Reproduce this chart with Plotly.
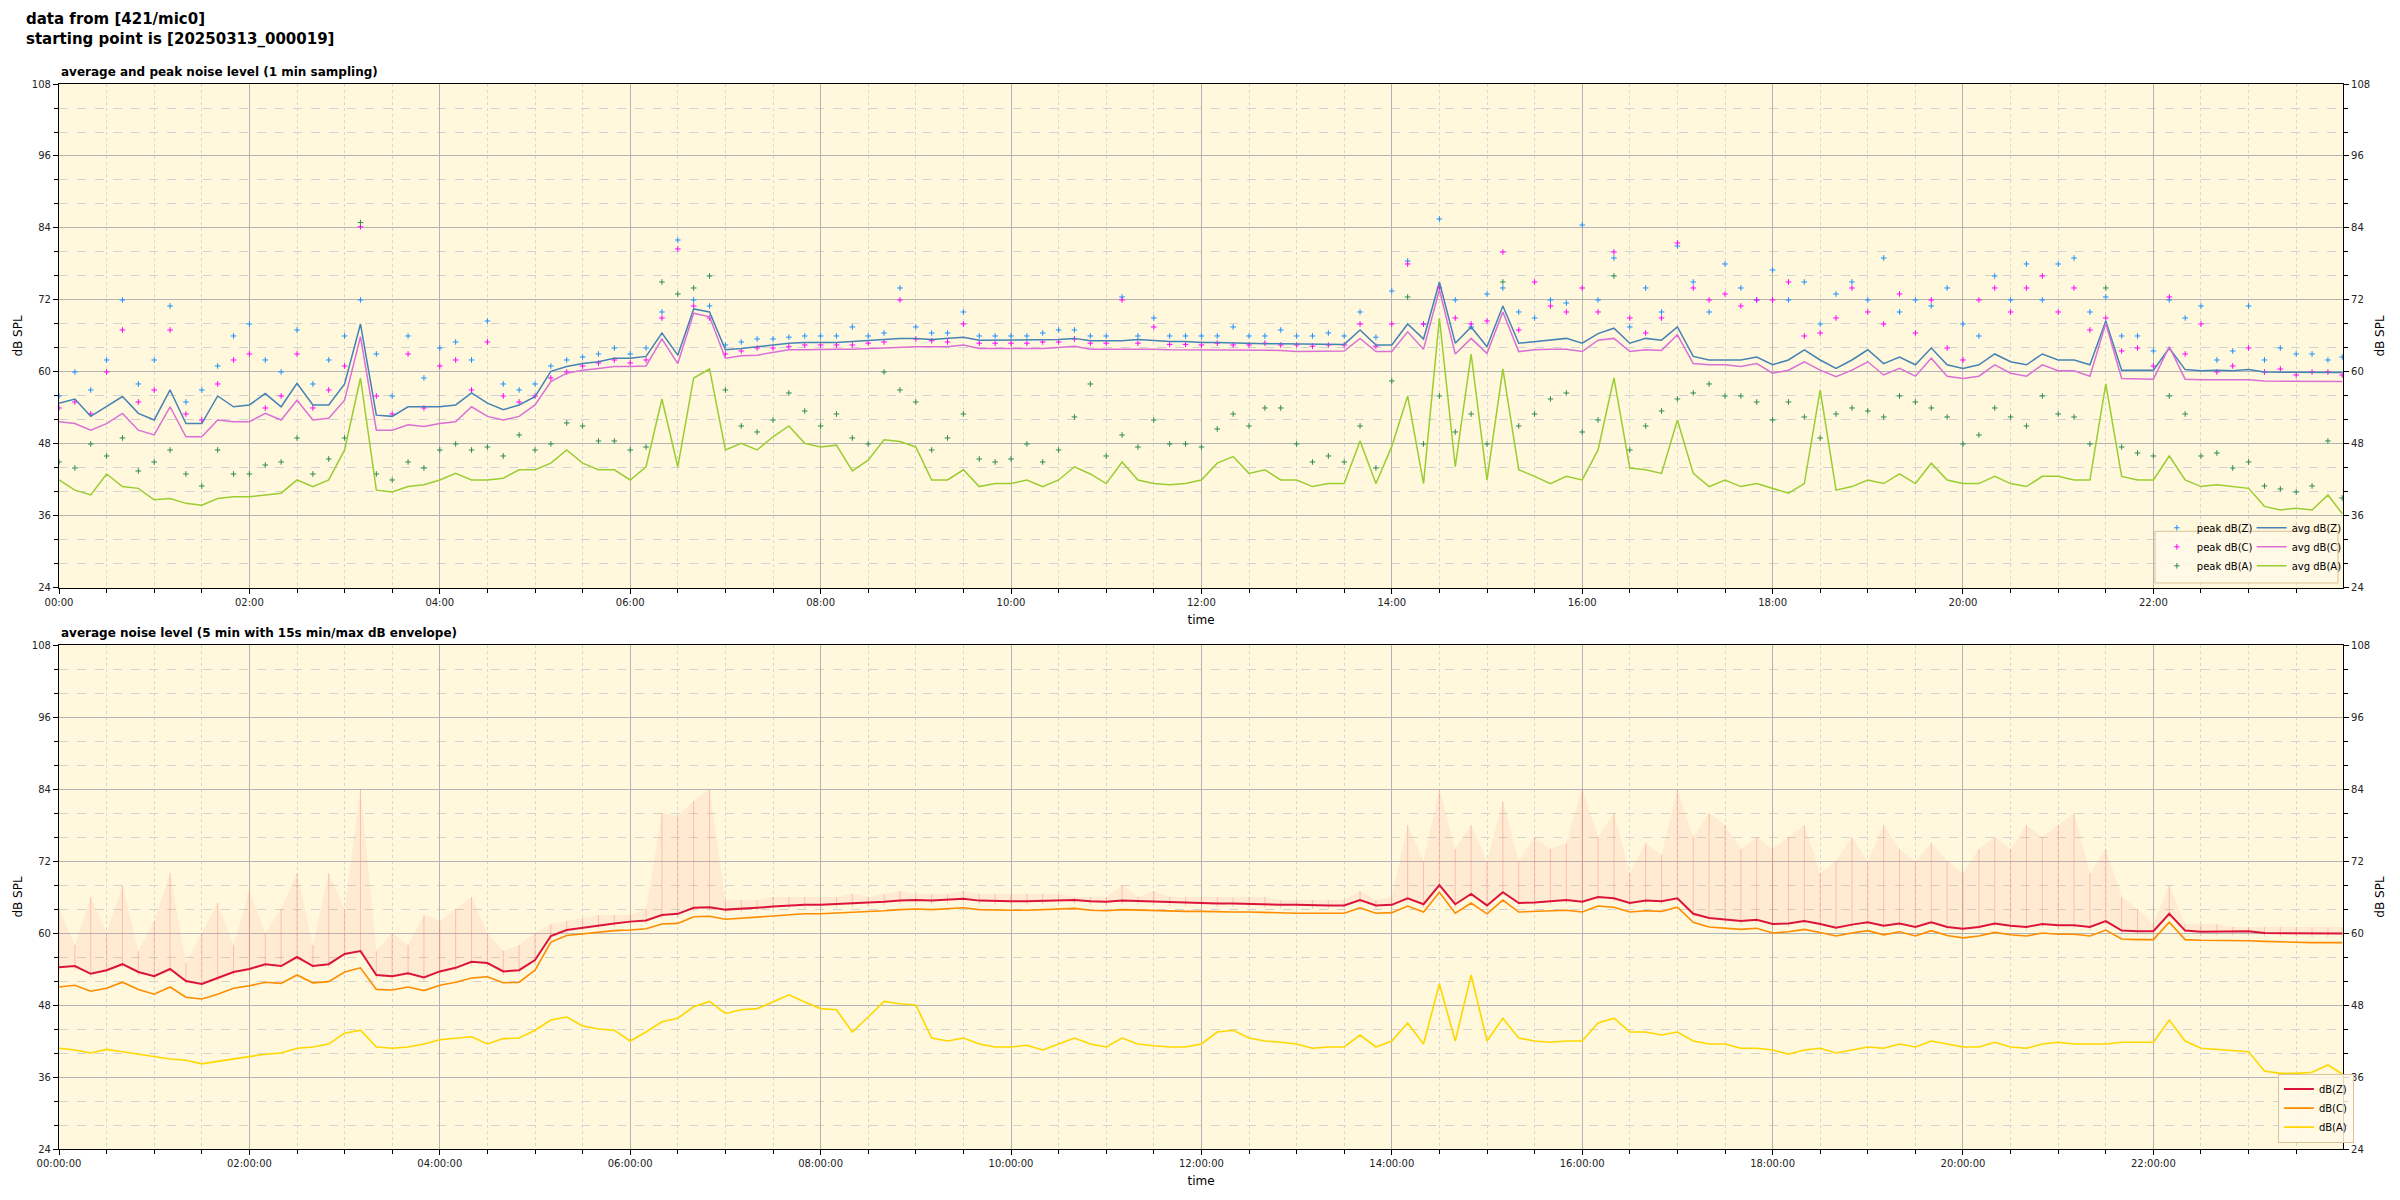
"""Daily noise level chart for one microphone (1 min peaks/averages and 5 min envelope)."""

import datetime as dt

import plotly.graph_objects as go

T0 = dt.datetime(2025, 3, 13, 0, 0, 0)

# samples every 10 minutes, the last one at 23:59
minutes = list(range(0, 1440, 10)) + [1439]
times = [T0 + dt.timedelta(minutes=m) for m in minutes]

y_ticks = [24, 36, 48, 60, 72, 84, 96, 108]

# ---- top panel: 1 min sampling ----
avg_z = [
    54.8, 55.5, 52.6, 54.2, 55.9, 53.1,
    52.0, 57.0, 51.4, 51.4, 56.0, 54.2,
    54.5, 56.4, 54.2, 58.1, 54.5, 54.5,
    58.0, 68.0, 52.8, 52.6, 54.2, 54.2,
    54.2, 54.5, 56.5, 54.8, 53.7, 54.5,
    55.9, 60.1, 60.9, 61.4, 61.7, 62.3,
    62.3, 62.6, 66.5, 62.8, 70.5, 70.0,
    63.7, 63.9, 64.2, 64.5, 64.8, 64.9,
    64.9, 64.9, 65.1, 65.2, 65.4, 65.6,
    65.6, 65.4, 65.6, 65.8, 65.3, 65.3,
    65.3, 65.3, 65.4, 65.4, 65.6, 65.2,
    65.2, 65.2, 65.4, 65.2, 65.1, 65.1,
    64.9, 64.9, 64.8, 64.8, 64.7, 64.7,
    64.7, 64.6, 64.6, 64.6, 67.0, 64.5,
    64.5, 68.0, 65.5, 75.0, 64.8, 67.5,
    64.2, 71.0, 64.8, 65.1, 65.3, 65.6,
    64.8, 66.4, 67.3, 64.8, 65.6, 65.3,
    67.5, 62.6, 62.0, 62.0, 62.0, 62.5,
    61.2, 62.0, 63.7, 62.0, 60.6, 62.0,
    63.7, 61.4, 62.5, 61.2, 64.0, 61.2,
    60.6, 61.2, 63.0, 61.7, 61.2, 63.0,
    62.0, 62.0, 61.2, 68.5, 60.3, 60.3,
    60.3, 64.0, 60.4, 60.2, 60.3, 60.2,
    60.4, 60.0, 60.0, 59.9, 59.9, 59.9,
    59.9,
]
avg_c = [
    51.7, 51.4, 50.3, 51.4, 53.1, 50.3,
    49.5, 54.2, 49.2, 49.2, 52.0, 51.7,
    51.7, 53.1, 52.0, 55.3, 52.0, 52.3,
    55.3, 65.9, 50.3, 50.3, 51.2, 50.9,
    51.4, 51.7, 54.2, 52.6, 52.0, 52.6,
    54.5, 58.4, 59.8, 60.3, 60.6, 60.9,
    60.9, 61.0, 65.5, 61.4, 69.8, 69.2,
    62.3, 62.7, 62.8, 63.2, 63.7, 63.7,
    63.8, 63.8, 63.8, 63.9, 64.1, 64.2,
    64.2, 64.2, 64.2, 64.5, 63.9, 63.9,
    63.9, 63.9, 63.9, 64.1, 64.3, 63.8,
    63.8, 63.8, 63.9, 63.8, 63.7, 63.7,
    63.7, 63.7, 63.7, 63.7, 63.6, 63.6,
    63.4, 63.4, 63.4, 63.5, 65.6, 63.4,
    63.4, 66.7, 63.8, 73.7, 63.0, 65.6,
    63.1, 70.0, 63.4, 63.7, 63.8, 63.8,
    63.4, 65.3, 65.6, 63.4, 63.7, 63.6,
    66.2, 61.4, 61.2, 61.2, 60.9, 61.4,
    59.8, 60.3, 61.7, 60.3, 59.2, 60.3,
    61.7, 59.5, 60.6, 59.3, 62.3, 59.3,
    58.9, 59.3, 61.2, 59.8, 59.3, 61.2,
    60.2, 60.2, 59.3, 68.1, 58.9, 58.9,
    58.8, 64.2, 58.8, 58.7, 58.7, 58.6,
    58.7, 58.5, 58.5, 58.4, 58.4, 58.4,
    58.4,
]
avg_a = [
    42.0, 40.3, 39.5, 43.0, 40.9, 40.6,
    38.7, 38.9, 38.1, 37.8, 38.9, 39.2,
    39.2, 39.5, 39.8, 42.0, 40.9, 42.0,
    47.0, 59.0, 40.3, 40.0, 40.9, 41.2,
    42.0, 43.1, 42.0, 42.0, 42.3, 43.7,
    43.7, 44.8, 47.0, 44.8, 43.7, 43.7,
    42.0, 44.2, 55.5, 44.2, 59.0, 60.5,
    47.0, 48.1, 47.0, 49.2, 51.0, 48.1,
    47.5, 47.8, 43.5, 45.3, 48.7, 48.4,
    47.5, 42.0, 42.0, 43.7, 40.9, 41.4,
    41.4, 42.0, 40.9, 42.0, 44.2, 43.0,
    41.4, 45.0, 42.0, 41.4, 41.2, 41.4,
    42.0, 44.8, 45.9, 43.1, 43.7, 42.0,
    42.0, 40.9, 41.4, 41.4, 48.5, 41.4,
    47.6, 56.0, 41.4, 69.0, 44.2, 63.0,
    42.0, 60.5, 43.7, 42.6, 41.4, 42.6,
    42.0, 47.0, 59.0, 44.0, 43.7, 43.1,
    52.0, 43.1, 40.9, 42.0, 40.9, 41.4,
    40.6, 39.8, 41.4, 57.0, 40.3, 40.9,
    42.0, 41.4, 43.0, 41.4, 44.8, 42.0,
    41.4, 41.4, 42.6, 41.4, 40.9, 42.6,
    42.6, 42.0, 42.0, 58.0, 42.6, 42.0,
    42.0, 46.0, 42.0, 40.9, 41.2, 40.9,
    40.6, 37.6, 37.0, 37.3, 37.0, 39.5,
    36.4,
]
peak_z = [
    56, 60, 57, 62, 72, 58,
    62, 71, 55, 57, 61, 66,
    68, 62, 60, 67, 58, 62,
    66, 72, 63, 56, 66, 59,
    64, 65, 62, 68.5, 58, 57,
    58, 61, 62, 62.5, 63, 64,
    63, 64, 70, 82, 72, 71,
    64.5, 65, 65.5, 65.5, 65.8, 66,
    66, 66, 67.5, 66, 66.5, 74,
    67.5, 66.5, 66.5, 70, 66, 66,
    66, 66, 66.5, 67, 67, 66,
    66, 72.5, 66, 69, 66, 66,
    66, 66, 67.5, 66, 66, 67,
    66, 66, 66.5, 66, 70, 65.8,
    73.5, 78.5, 68, 85.5, 72, 67.5,
    73, 74, 70, 69, 72, 71.5,
    84.5, 72, 79, 67.5, 74, 70,
    81, 75, 70, 78, 74, 72,
    77, 72, 75, 68, 73, 75,
    72, 79, 70, 72, 71, 74,
    68, 66, 76, 72, 78, 72,
    78, 79, 70, 72.5, 66, 66,
    63.5, 72, 69, 71, 62, 63.5,
    71, 62, 64, 63, 63, 62,
    62.5,
]
peak_c = [
    54, 55, 53, 60, 67, 55,
    57, 67, 53, 52, 58, 62,
    63, 54, 56, 63, 54, 57,
    61, 84.2, 56, 53, 63, 54,
    61, 62, 57, 65, 56, 55,
    56, 59, 60, 61, 61.5, 62,
    61.5, 62, 69, 80.5, 71, 69,
    63, 63.5, 64, 64, 64.2, 64.5,
    64.5, 64.5, 64.5, 64.8, 65, 72,
    65.5, 65.2, 65, 68, 64.8, 64.8,
    64.8, 64.8, 65, 65, 65.5, 64.8,
    64.8, 72, 64.8, 67.5, 64.6, 64.6,
    64.5, 64.8, 64.5, 64.5, 64.8, 64.5,
    64.5, 64.3, 64.5, 64.5, 68, 64.3,
    68, 78, 68, 74, 69, 68,
    68.5, 80, 67, 75, 71, 70,
    74, 70, 80, 69, 66.5, 69,
    81.5, 74, 72, 73, 71, 72,
    72, 75, 66, 66.5, 69, 74,
    70, 68, 73, 66.5, 72, 64,
    62, 72, 74, 70, 74, 76,
    70, 74, 67, 69, 63.5, 64,
    61, 72.5, 63, 68, 60, 61,
    64, 60, 60.5, 59.5, 60, 60,
    59.5,
]
peak_a = [
    45, 44, 48, 46, 49, 43.5,
    45, 47, 43, 41, 47, 43,
    43, 44.5, 45, 49, 43, 45.5,
    49, 84.9, 43, 42, 45, 44,
    47, 48, 47, 47.5, 46, 49.5,
    47, 48, 51.5, 51, 48.5, 48.5,
    47, 47.5, 75, 73, 74, 76,
    57, 51, 50, 52, 56.5, 53.5,
    51, 53, 49, 48, 60, 57,
    55, 47, 49, 53, 45.5, 45,
    45.5, 48, 45, 47, 52.5, 58,
    46, 49.5, 47.5, 52, 48, 48,
    47.5, 50.5, 53, 51, 54, 54,
    48, 45, 46, 45, 51, 44,
    58.5, 72.5, 48, 56, 50, 53,
    48, 75, 51, 53, 55.5, 56.5,
    50, 52, 76, 47, 51, 53.5,
    55.5, 56.5, 58, 56, 56, 55,
    52, 55, 52.5, 49, 53, 54,
    53.5, 52.5, 56, 55, 54, 52.5,
    48, 49.5, 54, 52.5, 51, 56,
    53, 52.5, 48, 74, 47.5, 46.5,
    46, 56, 53, 46, 46.5, 44,
    45, 41, 40.5, 40, 41, 48.5,
    39,
]

# ---- bottom panel: 5 min average with 15s min/max envelope ----
lvl_z = [
    54.3, 54.5, 53.2, 53.8, 54.8, 53.5,
    52.8, 54.0, 52.0, 51.5, 52.5, 53.5,
    54.0, 54.8, 54.5, 56.0, 54.5, 54.8,
    56.5, 57.0, 53.0, 52.8, 53.3, 52.6,
    53.6, 54.2, 55.2, 55.0, 53.6, 53.8,
    55.5, 59.5, 60.5, 60.9, 61.3, 61.6,
    61.9, 62.1, 63.0, 63.2, 64.2, 64.3,
    63.9, 64.0, 64.2, 64.4, 64.6, 64.7,
    64.7, 64.8, 64.9, 65.0, 65.2, 65.4,
    65.5, 65.4, 65.5, 65.7, 65.4, 65.3,
    65.3, 65.3, 65.4, 65.4, 65.5, 65.3,
    65.2, 65.4, 65.3, 65.3, 65.1, 65.1,
    65.0, 64.9, 64.9, 64.8, 64.8, 64.7,
    64.7, 64.6, 64.6, 64.6, 65.5, 64.6,
    64.7, 65.8, 64.8, 68.0, 64.8, 66.5,
    64.6, 66.8, 65.0, 65.1, 65.3, 65.5,
    65.2, 66.0, 65.8, 65.0, 65.4, 65.3,
    65.8, 63.2, 62.5, 62.3, 62.0, 62.2,
    61.5, 61.6, 62.0, 61.5, 60.9, 61.4,
    61.8, 61.2, 61.6, 61.0, 61.8, 61.0,
    60.7, 61.0, 61.6, 61.2, 61.0, 61.5,
    61.3, 61.3, 61.0, 62.0, 60.4, 60.3,
    60.3, 63.2, 60.4, 60.2, 60.2, 60.2,
    60.3, 60.0, 60.0, 59.9, 59.9, 59.9,
    59.9,
]
lvl_c = [
    51.0, 51.3, 50.3, 50.8, 51.8, 50.6,
    49.8, 51.0, 49.3, 49.0, 49.8, 50.8,
    51.2, 51.8, 51.6, 53.0, 51.7, 51.9,
    53.5, 54.2, 50.6, 50.5, 51.0, 50.4,
    51.3, 51.8, 52.5, 52.7, 51.7, 51.8,
    53.8, 58.5, 59.6, 59.9, 60.2, 60.4,
    60.5, 60.7, 61.5, 61.6, 62.7, 62.8,
    62.3, 62.5, 62.7, 62.9, 63.1, 63.2,
    63.2, 63.3, 63.4, 63.5, 63.7, 63.9,
    64.0, 63.9, 64.0, 64.2, 63.9, 63.8,
    63.8, 63.8, 63.9, 64.0, 64.1, 63.8,
    63.7, 63.9, 63.8, 63.8, 63.6, 63.6,
    63.6, 63.5, 63.5, 63.5, 63.4, 63.4,
    63.3, 63.3, 63.3, 63.3, 64.2, 63.3,
    63.4, 64.5, 63.5, 66.8, 63.3, 65.0,
    63.2, 65.5, 63.5, 63.6, 63.7, 63.8,
    63.5, 64.5, 64.3, 63.5, 63.7, 63.6,
    64.3, 61.8, 61.0, 60.8, 60.6, 60.8,
    60.0, 60.2, 60.6, 60.1, 59.5, 60.0,
    60.4, 59.7, 60.2, 59.5, 60.4, 59.6,
    59.2, 59.5, 60.1, 59.7, 59.5, 60.0,
    59.8, 59.8, 59.5, 60.5, 59.0, 58.9,
    58.9, 61.8, 58.9, 58.8, 58.8, 58.7,
    58.7, 58.6, 58.5, 58.5, 58.4, 58.4,
    58.4,
]
lvl_a = [
    40.8, 40.5, 40.0, 40.6, 40.2, 39.8,
    39.5, 39.0, 38.8, 38.2, 38.6, 39.0,
    39.5, 39.8, 40.0, 40.8, 41.0, 41.5,
    43.3, 43.8, 41.0, 40.8, 41.0, 41.5,
    42.2, 42.4, 42.7, 41.5, 42.4, 42.5,
    43.8, 45.5, 46.0, 44.5, 44.0, 43.8,
    42.0, 43.5, 45.2, 45.8, 47.7, 48.6,
    46.6, 47.2, 47.4, 48.5, 49.7, 48.5,
    47.4, 47.2, 43.5, 46.0, 48.6, 48.2,
    48.0, 42.5, 42.0, 42.5, 41.5, 41.0,
    41.0, 41.3, 40.5, 41.5, 42.5, 41.5,
    41.0, 42.5, 41.5, 41.2, 41.0, 41.0,
    41.5, 43.5, 43.8, 42.5, 42.0, 41.8,
    41.5, 40.8, 41.0, 41.0, 43.0, 41.0,
    42.0, 45.0, 41.5, 51.5, 42.0, 53.0,
    42.0, 45.8, 42.5, 42.0, 41.8, 42.0,
    42.0, 45.0, 45.8, 43.5, 43.5, 43.0,
    43.5, 42.0, 41.5, 41.5, 40.8, 40.8,
    40.5, 39.8, 40.5, 40.8, 40.0, 40.5,
    41.0, 40.8, 41.5, 41.0, 42.0, 41.5,
    41.0, 41.0, 41.8, 41.0, 40.8, 41.5,
    41.8, 41.5, 41.5, 41.5, 41.8, 41.8,
    41.8, 45.5, 42.0, 40.8, 40.6, 40.5,
    40.2, 37.0, 36.6, 36.6, 36.8, 38.0,
    36.5,
]
# 15s maximum of dB(Z) within each slot
env_max = [
    64, 58, 66, 60, 68, 57,
    62, 70, 55, 60, 65, 58,
    67, 60, 64, 70, 58, 70,
    64, 84, 57, 60, 58, 63,
    62, 64, 66, 60, 57, 58,
    60, 61.5, 62, 62.5, 63, 63,
    63, 64, 80, 79.5, 82, 84,
    65.5, 65.5, 65.5, 66, 66, 66,
    66, 66, 66.5, 66, 66.5, 67,
    66.5, 66.5, 66.5, 67, 66.5, 66.5,
    66.5, 66.5, 66.5, 66.5, 66, 66,
    66, 68, 66, 67, 66, 66,
    66, 66, 66, 66, 66, 65.5,
    65.5, 65.5, 65.5, 65.5, 67, 65.5,
    66, 78, 72, 84, 74, 78,
    72, 82, 72, 76, 74, 75,
    84, 76, 80, 70, 75, 73,
    84, 76, 80, 78, 74, 76,
    74, 76, 78, 70, 72, 76,
    72, 78, 74, 72, 75, 72,
    70, 74, 76, 74, 78, 76,
    78, 80, 70, 74, 66, 64,
    61.5, 68, 61.5, 61.5, 61.5, 61,
    61, 61, 61, 61, 61, 61,
    61,
]

FONT = "DejaVu Sans"
BG = "#FFF8DC"

fig = go.Figure()

# top panel
peaks = [("peak dB(Z)", peak_z, "#1E90FF"),
         ("peak dB(C)", peak_c, "#FF00FF"),
         ("peak dB(A)", peak_a, "#2E8B57")]
for name, vals, color in peaks:
    fig.add_trace(go.Scatter(
        x=times, y=vals, mode="markers", name=name, legend="legend",
        marker=dict(symbol="cross-thin", size=4, color=color,
                    line=dict(width=1, color=color)),
        xaxis="x", yaxis="y"))

avgs = [("avg dB(Z)", avg_z, "#4682B4"),
        ("avg dB(C)", avg_c, "#DA70D6"),
        ("avg dB(A)", avg_a, "#9ACD32")]
for name, vals, color in avgs:
    fig.add_trace(go.Scatter(
        x=times, y=vals, mode="lines", name=name, legend="legend2",
        line=dict(color=color, width=1.5),
        xaxis="x", yaxis="y"))

# bottom panel: envelope, drawn as a faint band plus thin spikes
fig.add_trace(go.Scatter(
    x=times, y=lvl_z, mode="lines", line=dict(width=0), showlegend=False,
    hoverinfo="skip", xaxis="x2", yaxis="y2"))
fig.add_trace(go.Scatter(
    x=times, y=env_max, mode="lines", line=dict(width=0), fill="tonexty",
    fillcolor="rgba(250,128,114,0.10)", showlegend=False,
    hoverinfo="skip", xaxis="x2", yaxis="y2"))
fig.add_trace(go.Scatter(
    x=times, y=lvl_z, mode="markers", showlegend=False, hoverinfo="skip",
    marker=dict(size=1, color="rgba(0,0,0,0)"),
    error_y=dict(type="data", symmetric=False,
                 array=[e - z for e, z in zip(env_max, lvl_z)],
                 arrayminus=[0.6] * len(lvl_z),
                 thickness=1, width=0, color="rgba(250,128,114,0.4)"),
    xaxis="x2", yaxis="y2"))

levels = [("dB(Z)", lvl_z, "#DC143C", 2),
          ("dB(C)", lvl_c, "#FF8C00", 1.6),
          ("dB(A)", lvl_a, "#FFD700", 1.6)]
for name, vals, color, width in levels:
    fig.add_trace(go.Scatter(
        x=times, y=vals, mode="lines", name=name, legend="legend3",
        line=dict(color=color, width=width),
        xaxis="x2", yaxis="y2"))

# transparent copies so the right-hand axes get drawn
for yref, xref, vals in (("y3", "x", avg_z), ("y4", "x2", lvl_z)):
    fig.add_trace(go.Scatter(
        x=times, y=vals, mode="lines", opacity=0, showlegend=False,
        hoverinfo="skip", xaxis=xref, yaxis=yref))

x_end = T0 + dt.timedelta(minutes=1439.5)
tick_font = dict(family=FONT, size=10, color="#222")


def x_axis(anchor, fmt):
    return dict(
        anchor=anchor, domain=[0, 1], type="date", range=[T0, x_end],
        tick0=T0, dtick=2 * 3600 * 1000, tickformat=fmt, automargin=False,
        ticks="outside", ticklen=5, tickcolor="black", tickfont=tick_font,
        showline=True, linecolor="black", linewidth=1.2, mirror=True,
        showgrid=True, gridcolor="#b4b4b4", gridwidth=1.4, zeroline=False,
        minor=dict(dtick=30 * 60 * 1000, showgrid=True, gridcolor="#d6d6d6",
                   griddash="dot", gridwidth=1, ticks="outside", ticklen=4,
                   tickcolor="black"),
        title=dict(text="time", font=dict(family=FONT, size=12), standoff=8),
    )


def y_axis(domain, side="left", overlay=None, anchor="x"):
    ax = dict(
        domain=domain, range=[24, 108], tickvals=y_ticks, side=side,
        anchor=anchor, automargin=False,
        ticks="outside", ticklen=5, tickcolor="black",
        tickfont=tick_font, showline=True, linecolor="black", linewidth=1.2,
        showgrid=overlay is None, gridcolor="#b4b4b4", gridwidth=1.4,
        zeroline=False,
        minor=dict(dtick=4, tick0=24, showgrid=overlay is None,
                   gridcolor="#d2d2d2", griddash="dash", gridwidth=1,
                   ticks="outside", ticklen=4, tickcolor="black"),
        title=dict(text="dB SPL", font=dict(family=FONT, size=12), standoff=6),
    )
    if overlay:
        ax["overlaying"] = overlay
    return ax


top_dom = [0.5268, 1.0]
bot_dom = [0.0, 0.4732]

legend_style = dict(xanchor="left", yanchor="bottom", traceorder="normal",
                    font=dict(family=FONT, size=10), itemwidth=30,
                    tracegroupgap=0)

# the page body adds an 8px offset, so the figure is a little smaller
fig.update_layout(
    width=2384, height=1184,
    margin=dict(l=51, r=49, t=76, b=43),
    paper_bgcolor="white", plot_bgcolor=BG,
    font=dict(family=FONT, size=10, color="black"),
    xaxis=x_axis("y", "%H:%M"),
    xaxis2=x_axis("y2", "%H:%M:%S"),
    yaxis=y_axis(top_dom),
    yaxis2=y_axis(bot_dom, anchor="x2"),
    yaxis3=y_axis(top_dom, side="right", overlay="y"),
    yaxis4=y_axis(bot_dom, side="right", overlay="y2", anchor="x2"),
    legend=dict(x=0.9185, y=0.534, bgcolor="rgba(0,0,0,0)", **legend_style),
    legend2=dict(x=0.9600, y=0.534, bgcolor="rgba(0,0,0,0)", **legend_style),
    legend3=dict(x=0.9715, y=0.006, bgcolor="rgba(255,249,232,0.85)",
                 bordercolor="#dcc29a", borderwidth=1, **legend_style),
    showlegend=True,
)

# frame behind the two top legends
fig.add_shape(type="rect", xref="paper", yref="paper",
              x0=0.9177, x1=0.9978, y0=0.5315, y1=0.5800,
              fillcolor="rgba(255,249,232,0.85)",
              line=dict(color="#dcc29a", width=1), layer="above")

fig.add_annotation(
    xref="paper", yref="paper", x=-0.0153, y=1.0714, xanchor="left",
    yanchor="top", showarrow=False, align="left",
    text="<b>data from [421/mic0]<br>starting point is [20250313_000019]</b>",
    font=dict(family=FONT, size=15, color="black"))
fig.add_annotation(
    xref="paper", yref="paper", x=0, y=1.0, xanchor="left", yanchor="bottom",
    yshift=3, showarrow=False,
    text="<b>average and peak noise level (1 min sampling)</b>",
    font=dict(family=FONT, size=12, color="black"))
fig.add_annotation(
    xref="paper", yref="paper", x=0, y=bot_dom[1], xanchor="left",
    yanchor="bottom", yshift=3, showarrow=False,
    text="<b>average noise level (5 min with 15s min/max dB envelope)</b>",
    font=dict(family=FONT, size=12, color="black"))

fig.write_html("out.html")
